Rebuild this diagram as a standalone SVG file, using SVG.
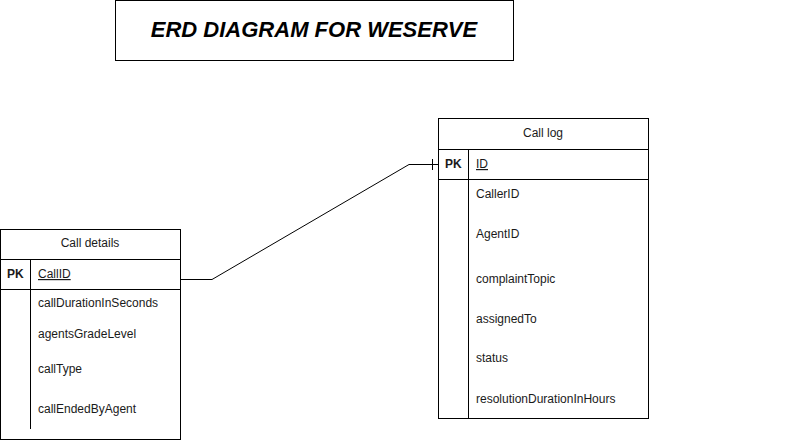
<svg xmlns="http://www.w3.org/2000/svg" width="797" height="440" viewBox="0 0 797 440">
<style>
.box{fill:#fff;stroke:#000;stroke-width:1}
.ln{stroke:#000;stroke-width:1;fill:none}
.t{font-family:"Liberation Sans",Arial,sans-serif;font-size:12px;fill:#1a1a1a}
.b{font-weight:bold}
.u{text-decoration:underline}
.h{text-anchor:middle}
</style>
<rect width="797" height="440" fill="#fff"/>
<g id="title">
<rect class="box" x="115.5" y="0.5" width="398" height="60"/>
<text x="314" y="37" text-anchor="middle" font-family="'Liberation Sans',Arial,sans-serif" font-size="22" font-weight="bold" font-style="italic">ERD DIAGRAM FOR WESERVE</text>
</g>
<g id="connectors">
<path class="ln" d="M181 279.5 H212 L409 164.5 H438"/>
<path class="ln" d="M432.5 159 V170"/>
</g>
<g id="call-details">
<rect class="box" x="0.5" y="229.5" width="180" height="210"/>
<path class="ln" d="M0 259.5 H181 M0 289.5 H181 M30.5 259 V429"/>
<text class="t h" x="90" y="247">Call details</text>
<text class="t b" x="7" y="278">PK</text>
<text class="t u" x="38" y="278">CallID</text>
<text class="t" x="38" y="307">callDurationInSeconds</text>
<text class="t" x="38" y="338">agentsGradeLevel</text>
<text class="t" x="38" y="373">callType</text>
<text class="t" x="38" y="413">callEndedByAgent</text>
</g>
<g id="call-log">
<rect class="box" x="438.5" y="118.5" width="210" height="300"/>
<path class="ln" d="M438 149.5 H649 M438 179.5 H649 M468.5 149 V419"/>
<text class="t h" x="543" y="137">Call log</text>
<text class="t b" x="445" y="168">PK</text>
<text class="t u" x="476" y="168">ID</text>
<text class="t" x="476" y="198">CallerID</text>
<text class="t" x="476" y="238">AgentID</text>
<text class="t" x="476" y="283">complaintTopic</text>
<text class="t" x="476" y="323">assignedTo</text>
<text class="t" x="476" y="362">status</text>
<text class="t" x="476" y="403">resolutionDurationInHours</text>
</g>
</svg>
